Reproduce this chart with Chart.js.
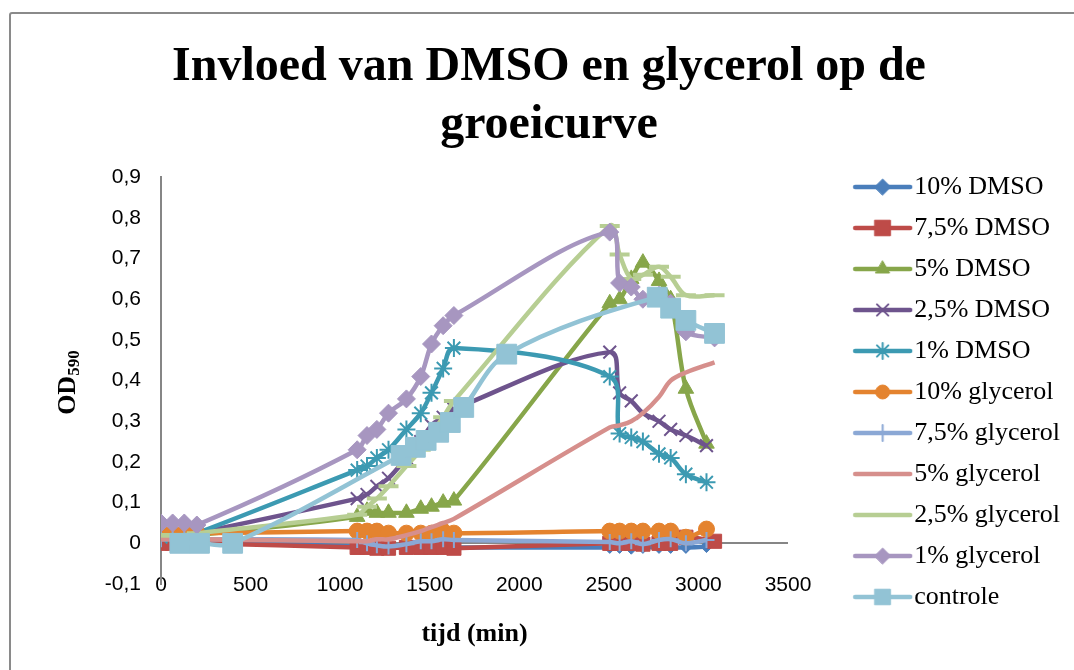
<!DOCTYPE html>
<html>
<head>
<meta charset="utf-8">
<script src="https://cdn.jsdelivr.net/npm/chart.js@4.4.1/dist/chart.umd.min.js"></script>
<style>
  body { margin: 0; background: #fff; }
  #wrap { position: relative; width: 1074px; height: 670px; overflow: hidden; }
  #kader { position: absolute; left: 9px; top: 12px; width: 1100px; height: 700px; border: 2px solid #8a8a8a; border-radius: 3px; }
  #grafiek { position: absolute; left: 0; top: 0; }
</style>
</head>
<body>
<div id="wrap">
  <div id="kader"></div>
  <canvas id="grafiek" width="1074" height="670"></canvas>
</div>
<script>
// tijdstippen (min)
const tijdKort = [0, 65, 130, 200, 1095, 1150, 1205, 1270, 1370, 1450, 1510, 1575, 1635, 2505, 2560, 2625, 2690, 2780, 2845, 2930, 3045];
const tijdLang = [0, 65, 130, 200, 1095, 1150, 1205, 1270, 1370, 1450, 1510, 1575, 1635, 2505, 2560, 2625, 2690, 2780, 2845, 2930, 3090];
const tijdControle = [105, 215, 400, 1340, 1420, 1480, 1550, 1615, 1690, 1930, 2770, 2845, 2930, 3090];

// OD590 metingen
const dmso10 = [0.005, 0.005, 0.005, 0.005, -0.008, -0.008, -0.008, -0.01, -0.008, -0.008, -0.008, -0.008, -0.01, -0.01, -0.01, -0.012, -0.01, -0.01, -0.01, -0.01, -0.008];
const dmso75 = [0, 0, 0, 0, -0.01, -0.01, -0.012, -0.012, -0.01, -0.01, -0.01, -0.01, -0.012, 0, 0, 0, -0.002, 0, 0, 0.015, 0.005];
const dmso5 = [0.02, 0.02, 0.02, 0.02, 0.065, 0.08, 0.075, 0.075, 0.075, 0.085, 0.09, 0.1, 0.105, 0.59, 0.6, 0.65, 0.69, 0.645, 0.6, 0.38, 0.245];
const dmso25 = [0.02, 0.02, 0.02, 0.025, 0.11, 0.12, 0.14, 0.16, 0.21, 0.25, 0.29, 0.31, 0.33, 0.47, 0.37, 0.35, 0.32, 0.3, 0.28, 0.265, 0.24];
const dmso1 = [0.015, 0.02, 0.02, 0.025, 0.18, 0.19, 0.21, 0.23, 0.28, 0.32, 0.37, 0.43, 0.48, 0.41, 0.27, 0.26, 0.25, 0.22, 0.21, 0.17, 0.15];
const glyc10 = [0.025, 0.025, 0.025, 0.025, 0.03, 0.03, 0.03, 0.025, 0.025, 0.025, 0.025, 0.03, 0.025, 0.03, 0.03, 0.03, 0.03, 0.03, 0.03, 0.015, 0.035];
const glyc75 = [0.01, 0.01, 0.01, 0.01, 0.008, 0, -0.005, -0.008, -0.002, 0.005, 0.005, 0.01, 0.008, 0.003, 0, 0.005, -0.002, 0.008, 0.01, 0, 0.008];
const glyc5 = [0.01, 0.01, 0.01, 0.01, 0.005, 0.005, 0.01, 0.01, 0.02, 0.03, 0.04, 0.05, 0.06, 0.285, 0.29, 0.3, 0.32, 0.36, 0.4, 0.42, 0.445];
const glyc25 = [0.02, 0.02, 0.02, 0.025, 0.07, 0.09, 0.11, 0.14, 0.19, 0.23, 0.27, 0.31, 0.35, 0.78, 0.71, 0.65, 0.66, 0.68, 0.655, 0.61, 0.61];
const glyc1 = [0.05, 0.05, 0.05, 0.045, 0.23, 0.265, 0.28, 0.32, 0.355, 0.41, 0.49, 0.535, 0.56, 0.765, 0.64, 0.63, 0.6, 0.61, 0.59, 0.52, 0.505];
const controle = [0, 0, 0, 0.216, 0.236, 0.253, 0.273, 0.297, 0.334, 0.465, 0.605, 0.578, 0.548, 0.516];

const xTicks = [0, 500, 1000, 1500, 2000, 2500, 3000, 3500];
const yTicks = [-0.1, 0, 0.1, 0.2, 0.3, 0.4, 0.5, 0.6, 0.7, 0.8, 0.9];

const serif = "'Liberation Serif', 'Times New Roman', serif";
const sans = "'Liberation Sans', Arial, sans-serif";

const reeksen = [
    { label: "10% DMSO", tijd: tijdKort, od: dmso10, kleur: "#4a7ebb", punt: "rectRot", r: 6, lr: 8, bw: 1 },
    { label: "7,5% DMSO", tijd: tijdLang, od: dmso75, kleur: "#be4b48", punt: "rect", r: 10, lr: 11, bw: 1 },
    { label: "5% DMSO", tijd: tijdKort, od: dmso5, kleur: "#87a64a", punt: "triangle", r: 9, lr: 8, bw: 1 },
    { label: "2,5% DMSO", tijd: tijdKort, od: dmso25, kleur: "#6e548d", punt: "crossRot", r: 9, lr: 8, bw: 2 },
    { label: "1% DMSO", tijd: tijdKort, od: dmso1, kleur: "#3c9ab2", punt: "star", r: 9, lr: 8, bw: 2 },
    { label: "10% glycerol", tijd: tijdKort, od: glyc10, kleur: "#e4832f", punt: "circle", r: 8, lr: 7, bw: 1 },
    { label: "7,5% glycerol", tijd: tijdKort, od: glyc75, kleur: "#8ba8d5", punt: "cross", r: 8, lr: 8, bw: 2 },
    { label: "5% glycerol", tijd: tijdLang, od: glyc5, kleur: "#d68f8c", punt: false, r: 0, lr: 0, bw: 0 },
    { label: "2,5% glycerol", tijd: tijdLang, od: glyc25, kleur: "#b7ce93", punt: "line", r: 10, lr: 0, bw: 4 },
    { label: "1% glycerol", tijd: tijdLang, od: glyc1, kleur: "#a796c0", punt: "rectRot", r: 9, lr: 8, bw: 1 },
    { label: "controle", tijd: tijdControle, od: controle, kleur: "#92c3d5", punt: "rect", r: 14, lr: 11, bw: 1 },
];

// legend sample: line with marker in the middle, drawn on a small canvas
function legendPlaatje(reeks) {
    const c = document.createElement("canvas");
    c.width = 80;
    c.height = 30;
    const ctx = c.getContext("2d");
    ctx.strokeStyle = reeks.kleur;
    ctx.fillStyle = reeks.kleur;
    ctx.lineWidth = 4.5;
    ctx.lineCap = "round";
    ctx.beginPath();
    ctx.moveTo(17, 15);
    ctx.lineTo(72, 15);
    ctx.stroke();
    if (reeks.punt && reeks.lr > 0) {
        ctx.lineWidth = reeks.bw;
        Chart.helpers.drawPoint(ctx, { pointStyle: reeks.punt, radius: reeks.lr, rotation: 0, borderWidth: reeks.bw }, 44.5, 15);
    }
    return c;
}
const legendPlaatjes = reeksen.map(legendPlaatje);

const datasets = reeksen.map((reeks, i) => ({
    label: reeks.label,
    data: reeks.tijd.map((t, j) => ({ x: t, y: reeks.od[j] })),
    borderColor: reeks.kleur,
    backgroundColor: reeks.kleur,
    borderWidth: 4.5,
    tension: 0.35,
    pointStyle: reeks.punt,
    pointRadius: reeks.r,
    pointBorderWidth: reeks.bw,
    pointBackgroundColor: reeks.kleur,
    pointBorderColor: reeks.kleur,
    order: reeksen.length - i,
}));

// y axis title with subscript
const ySubTitel = {
    id: "ySubTitel",
    afterDraw(chart) {
        const ctx = chart.ctx;
        const x = chart.chartArea.left - 93;
        const y = (chart.chartArea.top + chart.chartArea.bottom) / 2 + 2;
        ctx.save();
        ctx.translate(x, y);
        ctx.rotate(-Math.PI / 2);
        ctx.fillStyle = "#000";
        ctx.textBaseline = "middle";
        ctx.font = "bold 26px " + serif;
        const wOD = ctx.measureText("OD").width;
        ctx.font = "bold 17px " + serif;
        const wSub = ctx.measureText("590").width;
        const start = -(wOD + wSub) / 2;
        ctx.font = "bold 26px " + serif;
        ctx.fillText("OD", start, 0);
        ctx.font = "bold 17px " + serif;
        ctx.fillText("590", start + wOD, 7);
        ctx.restore();
    }
};

new Chart(document.getElementById("grafiek").getContext("2d"), {
    type: "line",
    data: { datasets: datasets },
    options: {
        responsive: false,
        animation: false,
        devicePixelRatio: 1,
        layout: { padding: { left: 28, right: 4, top: 0, bottom: 0 } },
        plugins: {
            tooltip: { enabled: false },
            title: {
                display: true,
                text: ["Invloed van DMSO en glycerol op de", "groeicurve"],
                color: "#000",
                font: { family: serif, size: 48, weight: "bold", lineHeight: 1.2 },
                padding: { top: 39, bottom: 23 },
            },
            legend: {
                position: "right",
                align: "start",
                title: { display: true, text: "", font: { size: 10, lineHeight: 1 }, padding: { top: 149, bottom: 0 } },
                labels: {
                    usePointStyle: true,
                    pointStyleWidth: 46,
                    padding: 15,
                    color: "#000",
                    font: { family: serif, size: 26 },
                    generateLabels: () => reeksen.map((reeks, i) => ({
                        text: reeks.label,
                        pointStyle: legendPlaatjes[i],
                        fillStyle: reeks.kleur,
                        strokeStyle: reeks.kleur,
                        fontColor: "#000",
                        lineWidth: 0,
                        hidden: false,
                        datasetIndex: i,
                    })),
                },
            },
        },
        scales: {
            x: {
                type: "linear",
                position: "bottom",
                min: 0,
                max: 3500,
                afterBuildTicks: (s) => { s.ticks = xTicks.map((v) => ({ value: v })); },
                afterFit: (s) => { s.height = 86; },
                grid: { display: false },
                border: { display: false },
                ticks: {
                    mirror: true,
                    padding: -14,
                    color: "#000",
                    font: { family: sans, size: 21 },
                    callback: (v) => String(v),
                },
                title: {
                    display: true,
                    text: "tijd (min)",
                    color: "#000",
                    font: { family: serif, size: 26, weight: "bold" },
                    padding: { top: 0, bottom: 20 },
                },
            },
            y: {
                min: -0.1,
                max: 0.9,
                afterBuildTicks: (s) => { s.ticks = yTicks.map((v) => ({ value: v })); },
                afterFit: (s) => { s.width = 133; },
                grid: {
                    drawTicks: false,
                    color: (c) => (c.tick && Math.abs(c.tick.value) < 1e-9 ? "#868686" : "rgba(0,0,0,0)"),
                    lineWidth: 2,
                },
                border: { display: true, color: "#868686", width: 2 },
                ticks: {
                    padding: 20,
                    color: "#000",
                    font: { family: sans, size: 21 },
                    callback: (v) => (Math.abs(v) < 1e-9 ? "0" : v.toFixed(1).replace(".", ",")),
                },
            },
            // hidden axis, only keeps the gap between plot and legend
            ruimte: {
                display: false,
                position: "right",
                afterFit: (s) => { s.width = Math.max(0, 1074 - 4 - s.chart.legend.width - 788); },
            },
        },
    },
    plugins: [ySubTitel],
});
</script>
</body>
</html>
